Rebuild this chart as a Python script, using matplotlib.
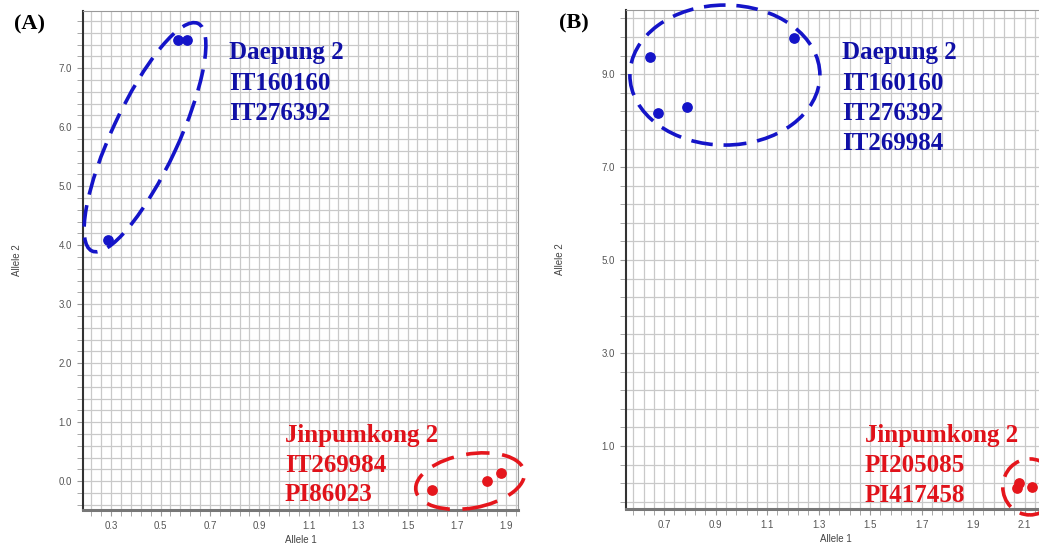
import numpy as np
import matplotlib
matplotlib.use("Agg")
import matplotlib.pyplot as plt
from matplotlib.patches import Ellipse
from matplotlib.transforms import IdentityTransform
from matplotlib.ticker import FixedLocator, FormatStrFormatter

# Panel A values
a_blue_x = [0.57, 0.605, 0.287]
a_blue_y = [7.48, 7.47, 4.08]
a_red_x = [1.60, 1.82, 1.88]
a_red_y = [-0.15, 0.00, 0.13]
a_blue_text = ["Daepung 2", "IT160160", "IT276392"]
a_red_text = ["Jinpumkong 2", "IT269984", "PI86023"]

# Panel B values
b_blue_x = [0.645, 0.676, 0.788, 1.204]
b_blue_y = [9.37, 8.16, 8.29, 9.77]
b_red_x = [2.07, 2.08, 2.13]
b_red_y = [0.10, 0.20, 0.12]
b_blue_text = ["Daepung 2", "IT160160", "IT276392", "IT269984"]
b_red_text = ["Jinpumkong 2", "PI205085", "PI417458"]

BLUE = "#1414c8"
RED = "#e5161c"
TBLUE = "#1010a6"
TRED = "#e0121a"

W, H = 1039, 546
fig = plt.figure(figsize=(W / 100, H / 100), dpi=100)


def px_axes(left, top, right, bottom):
    return fig.add_axes([left / W, 1 - bottom / H, (right - left) / W, (bottom - top) / H])


def style(ax, xlim, ylim, xmaj, xmin, ymaj, ymin):
    ax.set_xlim(*xlim)
    ax.set_ylim(*ylim)
    ax.xaxis.set_major_locator(FixedLocator(xmaj))
    ax.xaxis.set_minor_locator(FixedLocator(xmin))
    ax.yaxis.set_major_locator(FixedLocator(ymaj))
    ax.yaxis.set_minor_locator(FixedLocator(ymin))
    ax.xaxis.set_major_formatter(FormatStrFormatter("%.1f"))
    ax.yaxis.set_major_formatter(FormatStrFormatter("%.1f"))
    ax.grid(True, which="both", color="#c9c9c9", lw=0.9)
    ax.set_axisbelow(True)
    ax.tick_params(which="both", direction="out", length=4, color="#999999",
                   labelsize=7, labelcolor="#555555")
    ax.tick_params(axis="x", pad=4)
    ax.tick_params(axis="y", pad=4)
    for lab in ax.get_xticklabels() + ax.get_yticklabels():
        lab.set_family("Liberation Sans")
    ax.spines["left"].set_color("#333333")
    ax.spines["left"].set_linewidth(1.5)
    ax.spines["bottom"].set_color("#777777")
    ax.spines["bottom"].set_linewidth(2.2)
    ax.spines["top"].set_color("#999999")
    ax.spines["right"].set_color("#999999")
    ax.set_xlabel("Allele 1", fontsize=7, color="#444444", family="Liberation Sans", labelpad=3)
    ax.set_ylabel("Allele 2", fontsize=7, color="#444444", family="Liberation Sans", labelpad=26)


def ring(ax, cx, cy, w, h, ang, color, dash):
    px, py = ax.transData.transform((cx, cy))
    e = Ellipse((px, py), w, h, angle=ang, transform=IdentityTransform(),
                fill=False, edgecolor=color, lw=2.6, linestyle=(0, dash), clip_on=False)
    fig.add_artist(e)


def label_lines(x, y0, lines, color, step=30.0):
    for i, s in enumerate(lines):
        fig.text(x / W, 1 - (y0 + i * step) / H, s, color=color, fontsize=18,
                 family="Liberation Serif", fontweight="bold", va="baseline", ha="left")


# ---- Panel A
axA = px_axes(83, 11, 518, 510)
style(axA, (0.186, 1.947), (-0.49, 7.97),
      np.arange(0.3, 1.95, 0.2), np.arange(0.22, 1.95, 0.04),
      np.arange(0, 8, 1.0), np.arange(-0.4, 8.0, 0.2))
axA.scatter(a_blue_x, a_blue_y, s=45, color=BLUE, zorder=3)
axA.scatter(a_red_x, a_red_y, s=45, color=RED, zorder=3)
fig.canvas.draw()
ring(axA, 0.437, 5.83, 251, 66, 65, BLUE, (6, 3))
ring(axA, 1.753, 0.0, 110, 54, 10, RED, (6.5, 3.5))
label_lines(229, 59, a_blue_text, TBLUE, step=30.5)
label_lines(285, 442, a_red_text, TRED, step=29.5)
fig.text(14 / W, 1 - 29 / H, "(A)", fontsize=16, family="Liberation Serif",
         fontweight="bold", va="baseline")

# ---- Panel B
axB = px_axes(626, 10, 1046, 509)
style(axB, (0.552, 2.183), (-0.355, 10.38),
      np.arange(0.7, 2.15, 0.2), np.arange(0.58, 2.2, 0.04),
      np.arange(1.0, 10.0, 2.0), np.arange(-0.2, 10.4, 0.4))
axB.scatter(b_blue_x, b_blue_y, s=45, color=BLUE, zorder=3)
axB.scatter(b_red_x, b_red_y, s=45, color=RED, zorder=3)
fig.canvas.draw()
ring(axB, 0.936, 8.98, 190, 140, 0, BLUE, (6, 3))
ring(axB, 2.12, 0.12, 54, 56, 0, RED, (6, 3))
label_lines(842, 59, b_blue_text, TBLUE, step=30.5)
label_lines(865, 442, b_red_text, TRED, step=30.0)
fig.text(559 / W, 1 - 28 / H, "(B)", fontsize=16, family="Liberation Serif",
         fontweight="bold", va="baseline")

fig.savefig("out.png", dpi=100)
